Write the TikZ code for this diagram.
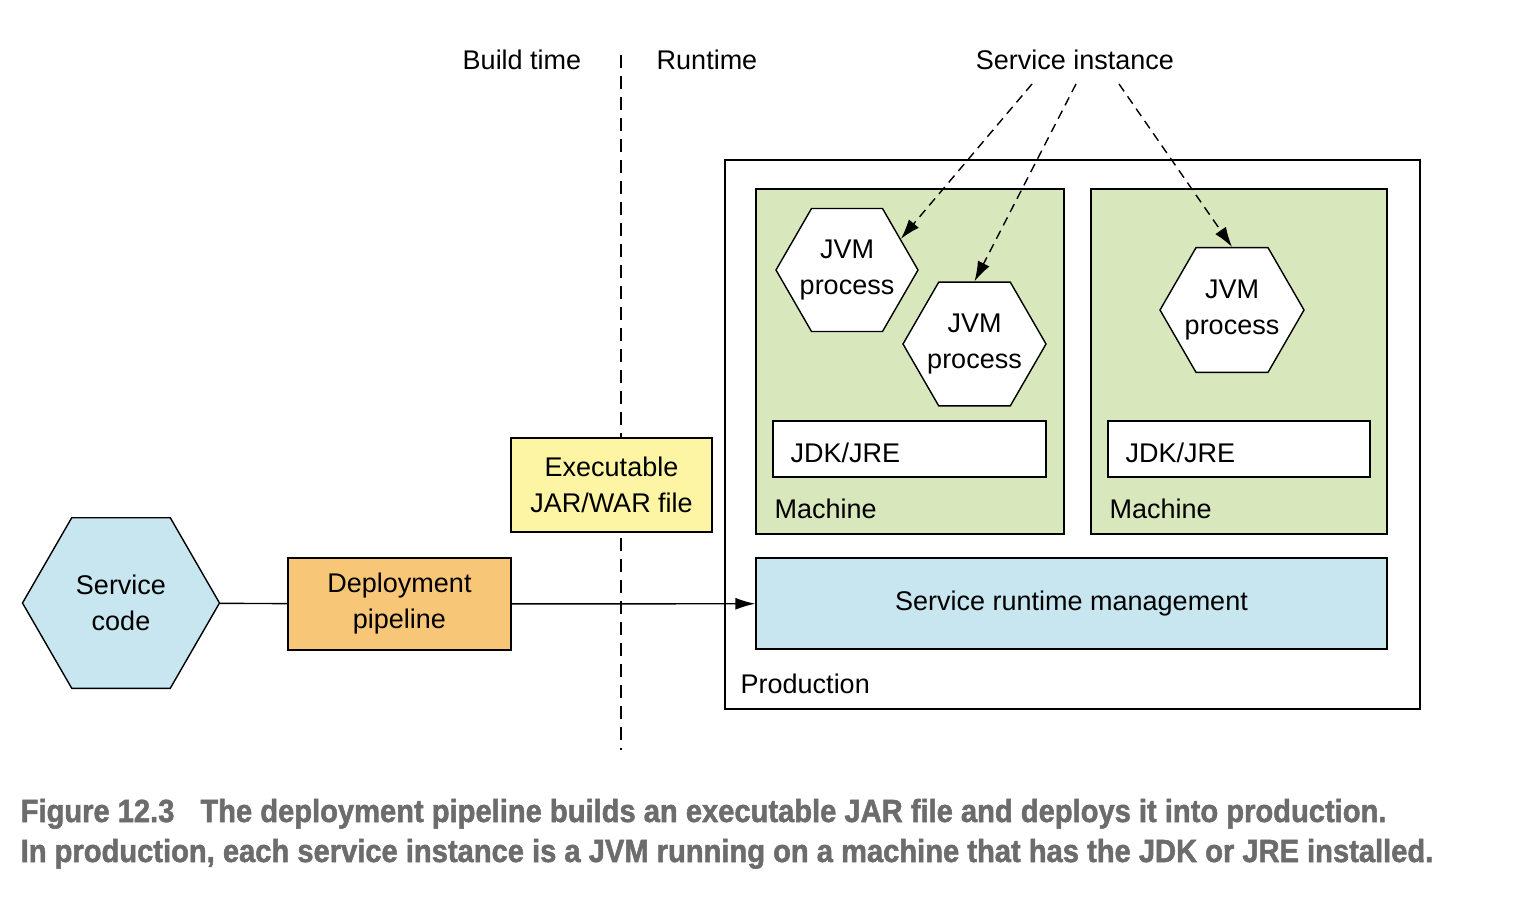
\documentclass[tikz,border=0pt]{standalone}
\usepackage{fontspec}
\setmainfont{Liberation Sans}
\newfontfamily\capfont{Liberation Sans Bold}[FakeStretch=0.91,FakeBold=1.6]
\usepackage{xcolor}
\usepackage{tikz}
\usetikzlibrary{arrows.meta,shapes.geometric}

\begin{document}
\begin{tikzpicture}[x=1pt,y=-1pt,line width=1.4pt]
    \definecolor{codeblue}{RGB}{200,230,240}
    \definecolor{pipeorange}{RGB}{248,198,119}
    \definecolor{jaryellow}{RGB}{253,244,164}
    \definecolor{machgreen}{RGB}{217,231,189}
    \definecolor{capgray}{RGB}{108,108,108}

    \fontsize{27}{36}\selectfont  % text size
    \tikzstyle{box}=[rectangle,draw,align=center,inner sep=0pt]  % plain boxes
    \tikzstyle{hexa}=[regular polygon,regular polygon sides=6,draw,fill=white,inner sep=0pt]  % hexagons
    \tikzstyle{lbl}=[inner sep=0pt,anchor=base west]  % corner labels
    \tikzstyle{inst}=[-{Latex[length=20pt,width=13pt]},dashed,dash pattern=on 9pt off 6pt]  % instance arrows
    \tikzstyle{capline}=[lbl,text=capgray,font=\capfont\fontsize{32}{40}\selectfont]  % caption

    \useasboundingbox (0,0) rectangle (1536,918);

    % divider
    \coordinate (divtop) at (621,55);
    \coordinate (divbot) at (621,750);
    \draw[dashed,dash pattern=on 13pt off 8pt](divtop)--(divbot);
    \node(build) at (522,60){Build time};
    \node(run) at (707,60){Runtime};

    % production side
    \node[box,minimum width=695pt,minimum height=549pt](prod) at (1072.5,434.5){};
    \node[lbl] at (740,693){Production};
    \node[box,fill=machgreen,minimum width=308pt,minimum height=345pt](mach1) at (910,361.5){};
    \node[box,fill=machgreen,minimum width=296pt,minimum height=345pt](mach2) at (1239,361.5){};
    \node[lbl] at (774,518){Machine};
    \node[lbl] at (1109,518){Machine};
    \node[box,fill=white,minimum width=273pt,minimum height=56pt](jdk1) at (909.5,449){};
    \node[box,fill=white,minimum width=262pt,minimum height=56pt](jdk2) at (1239,449){};
    \node[lbl] at (790,462){JDK/JRE};
    \node[lbl] at (1125,462){JDK/JRE};
    \node[hexa,minimum size=142pt,label={[align=center]center:JVM\\process}](jvm1) at (847,270){};
    \node[hexa,minimum size=143pt,label={[align=center]center:JVM\\process}](jvm2) at (974.5,344){};
    \node[hexa,minimum size=144pt,label={[align=center]center:JVM\\process}](jvm3) at (1232,310){};
    \node[box,fill=codeblue,minimum width=631pt,minimum height=91pt](srm) at (1071.5,603.5){Service runtime management};

    % build side
    \node[hexa,fill=codeblue,minimum size=197pt,label={[align=center]center:Service\\code}](code) at (121,603){};
    \node[box,fill=pipeorange,minimum width=223pt,minimum height=92pt](pipe) at (399.5,604){Deployment\\pipeline};
    \node[box,fill=jaryellow,minimum width=201pt,minimum height=94pt](jar) at (611.5,485){Executable\\JAR/WAR file};

    % service instance arrows
    \node(inst) at (1075,60){Service instance};
    \coordinate (s1) at (1032,84);
    \coordinate (s2) at (1076,84);
    \coordinate (s3) at (1119,84);
    \draw[inst](s1)--(jvm1.30);
    \draw[inst](s2)--(jvm2.north);
    \draw[inst](s3)--(jvm3.north);

    % main flow
    \draw(code)--(pipe);
    \draw[-{Latex[length=20pt,width=12pt]}](pipe)--(srm);

    % caption
    \node[capline] at (20,822){Figure 12.3\hspace{26pt}The deployment pipeline builds an executable JAR file and deploys it into production.};
    \node[capline] at (20,862){In production, each service instance is a JVM running on a machine that has the JDK or JRE installed.};
\end{tikzpicture}
\end{document}
